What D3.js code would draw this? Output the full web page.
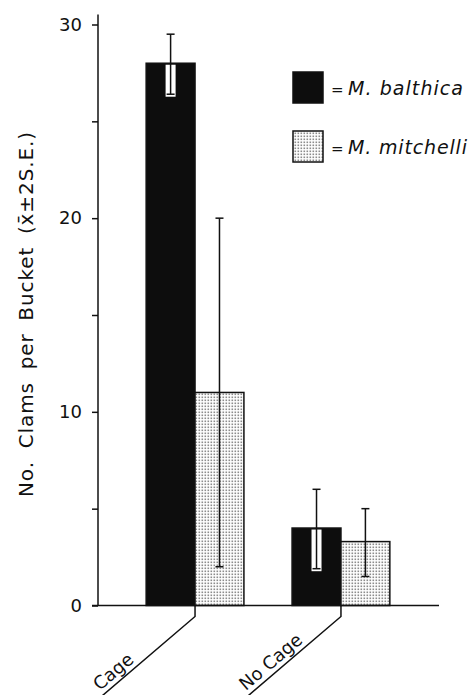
<!DOCTYPE html>
<html>
<head>
<meta charset="utf-8">
<script src="https://cdn.jsdelivr.net/npm/d3@7"></script>
<style>
  html, body { margin: 0; padding: 0; background: #fff; }
  svg { display: block; }
  text { fill: #111; }
</style>
</head>
<body>
<svg id="chart" width="474" height="695"></svg>
<script>
// Treatment groups and the two clam species
const treatments = ["Cage", "No Cage"];
const species = ["M. balthica", "M. mitchelli"];

// Mean clams per bucket, by treatment (order follows `treatments`)
const balthicaMean = [28, 4];
const mitchelliMean = [11, 3.3];

// Error bar ends (mean ± 2 S.E.)
const balthicaLow = [26.4, 1.9];
const balthicaHigh = [29.5, 6];
const mitchelliLow = [2, 1.5];
const mitchelliHigh = [20, 5];

// Y axis ticks
const majorTicks = [0, 10, 20, 30];
const minorTicks = [5, 15, 25];

const rows = [];
treatments.forEach((t, i) => {
  rows.push({ treatment: t, sp: species[0], mean: balthicaMean[i], lo: balthicaLow[i], hi: balthicaHigh[i] });
  rows.push({ treatment: t, sp: species[1], mean: mitchelliMean[i], lo: mitchelliLow[i], hi: mitchelliHigh[i] });
});

const svg = d3.select("#chart");
const defs = svg.append("defs");

// Fine stipple fill for M. mitchelli
const pat = defs.append("pattern")
  .attr("id", "stipple")
  .attr("patternUnits", "userSpaceOnUse")
  .attr("width", 3).attr("height", 3);
pat.append("rect").attr("width", 3).attr("height", 3).attr("fill", "#fff");
pat.append("rect").attr("x", 0.5).attr("y", 0.5).attr("width", 1.6).attr("height", 1.6).attr("fill", "#8c8c8c");

const fillFor = sp => sp === species[0] ? "#0d0d0d" : "url(#stipple)";

const x0 = d3.scaleBand().domain(treatments).range([98, 438]).paddingInner(0.33).paddingOuter(0.33);
const x1 = d3.scaleBand().domain(species).range([0, x0.bandwidth()]).padding(0);
const y = d3.scaleLinear().domain([0, 30]).range([605.5, 24.5]);

const font = "'DejaVu Sans', sans-serif";

// Bars
const bars = svg.append("g");
bars.selectAll("rect")
  .data(rows)
  .join("rect")
  .attr("x", d => x0(d.treatment) + x1(d.sp))
  .attr("y", d => y(d.mean))
  .attr("width", x1.bandwidth())
  .attr("height", d => y(0) - y(d.mean))
  .attr("fill", d => fillFor(d.sp))
  .attr("stroke", "#111")
  .attr("stroke-width", 1.5);

// Error bars; inside the dark bars the whisker is drawn on a white strip
const err = svg.append("g").attr("stroke", "#111").attr("stroke-width", 1.5);
rows.forEach(d => {
  const cx = x0(d.treatment) + x1(d.sp) + x1.bandwidth() / 2;
  const g = err.append("g");
  if (d.sp === species[0]) {
    g.append("rect")
      .attr("x", cx - 5).attr("y", y(d.mean) + 1.5)
      .attr("width", 10).attr("height", y(d.lo) - y(d.mean) + 1)
      .attr("fill", "#fff").attr("stroke", "none");
  }
  g.append("line").attr("x1", cx).attr("x2", cx).attr("y1", y(d.hi)).attr("y2", y(d.lo));
  g.append("line").attr("x1", cx - 4).attr("x2", cx + 4).attr("y1", y(d.hi)).attr("y2", y(d.hi));
  g.append("line").attr("x1", cx - 4).attr("x2", cx + 4).attr("y1", y(d.lo)).attr("y2", y(d.lo));
});

// Y axis
const yAxis = d3.axisLeft(y)
  .tickValues(majorTicks.concat(minorTicks))
  .tickFormat(d => majorTicks.includes(d) ? d : "")
  .tickSize(6)
  .tickSizeOuter(0)
  .tickPadding(10);
const ya = svg.append("g").attr("transform", "translate(98,0)").call(yAxis);
ya.select(".domain").remove();
ya.selectAll(".tick line").attr("stroke", "#111").attr("stroke-width", 1.5);
ya.selectAll(".tick text").attr("font-family", font).attr("font-size", 18).attr("fill", "#222");
ya.append("line")
  .attr("x1", 0).attr("x2", 0)
  .attr("y1", y(0)).attr("y2", y(30) - 10)
  .attr("stroke", "#111").attr("stroke-width", 1.5);

// X axis baseline
svg.append("line")
  .attr("x1", x0.range()[0] - 6).attr("x2", x0.range()[1] + 1)
  .attr("y1", y(0)).attr("y2", y(0))
  .attr("stroke", "#111").attr("stroke-width", 1.5);

// Y axis title: widen the gaps between words so it spans the axis
const title = svg.append("text")
  .attr("transform", `translate(33,${314}) rotate(-90)`)
  .attr("text-anchor", "middle")
  .attr("font-family", font)
  .attr("font-size", 20)
  .attr("letter-spacing", 0.9)
  .text("No. Clams per Bucket (x\u0304\u00b12S.E.)");
const natural = title.node().getComputedTextLength();
title.attr("word-spacing", Math.max(0, (366 - natural) / 4));

// Slanted category labels hanging from each group centre
const ang = 40.5 * Math.PI / 180;
const ux = -Math.cos(ang), uy = Math.sin(ang);   // along the leader, down-left
const nx = -Math.sin(ang), ny = -Math.cos(ang);  // perpendicular, above the leader
const cats = svg.append("g");
treatments.forEach(t => {
  const cx = x0(t) + x0.bandwidth() / 2;
  const y0 = y(0), y1 = y0 + 11;
  const L = 160;
  cats.append("path")
    .attr("d", `M${cx},${y0}V${y1}L${cx + ux * L},${y1 + uy * L}`)
    .attr("fill", "none").attr("stroke", "#111").attr("stroke-width", 1.5);
  const along = 121, off = 5;
  const px = cx + ux * along + nx * off, py = y1 + uy * along + ny * off;
  cats.append("text")
    .attr("transform", `translate(${px},${py}) rotate(${-40.5})`)
    .attr("font-family", font)
    .attr("font-size", 18)
    .attr("text-anchor", "start")
    .text(t);
});

// Legend
const legend = svg.append("g");
const legendRows = [{ sp: species[0], top: 72, len: 115 }, { sp: species[1], top: 131, len: 119 }];
legendRows.forEach(r => {
  legend.append("rect")
    .attr("x", 293).attr("y", r.top)
    .attr("width", 30).attr("height", 31)
    .attr("fill", fillFor(r.sp))
    .attr("stroke", "#111").attr("stroke-width", 1.5);
  legend.append("text")
    .attr("x", 331).attr("y", r.top + 23)
    .attr("font-family", font).attr("font-size", 15)
    .text("=");
  legend.append("text")
    .attr("x", 348).attr("y", r.top + 23)
    .attr("font-family", font).attr("font-size", 19)
    .attr("font-style", "italic")
    .attr("textLength", r.len)
    .attr("lengthAdjust", "spacing")
    .text(r.sp);
});
</script>
</body>
</html>
